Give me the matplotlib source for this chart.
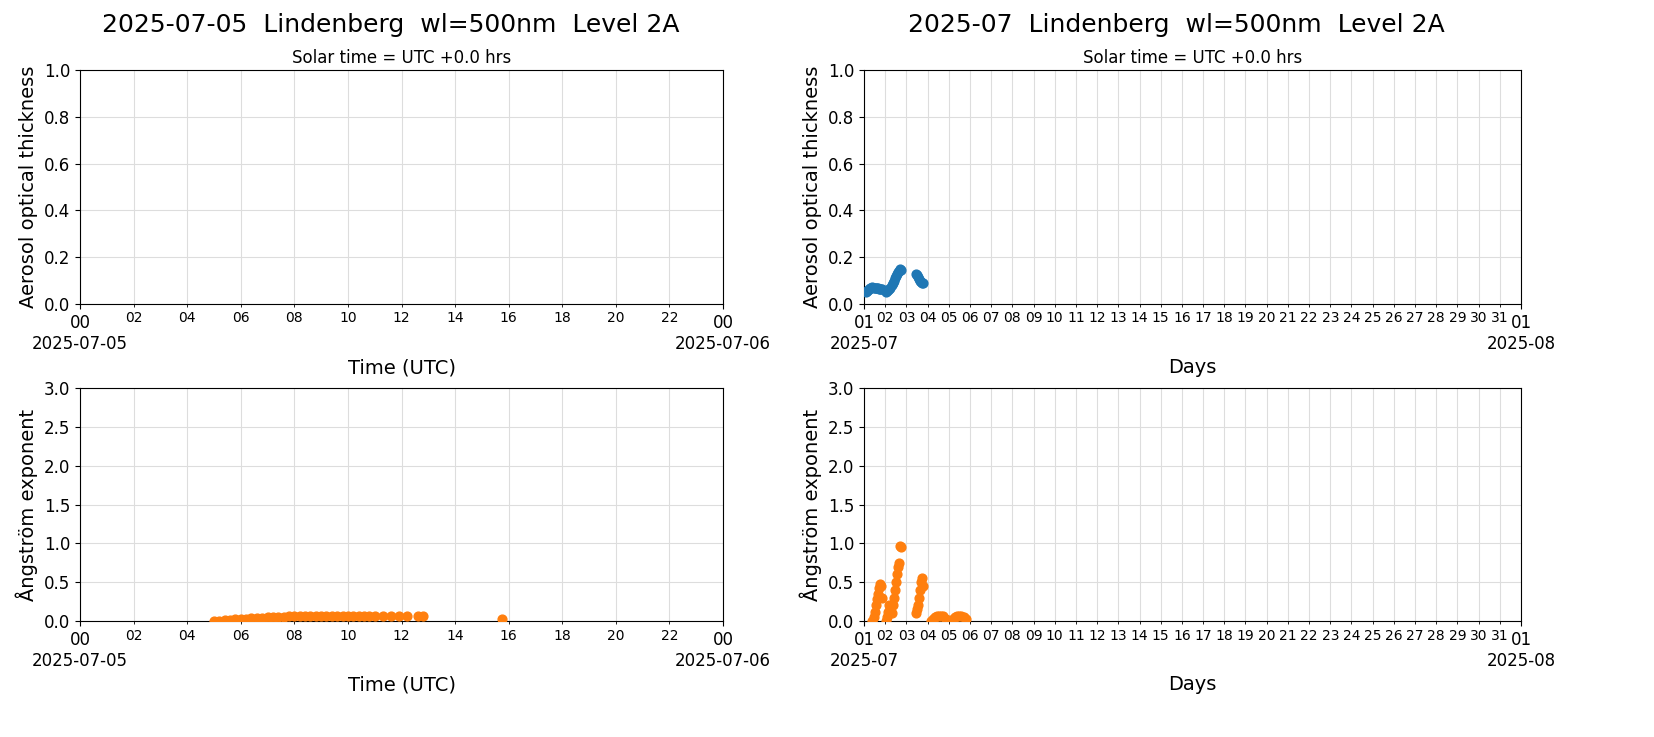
import matplotlib
matplotlib.use("Agg")
import matplotlib.pyplot as plt
import matplotlib.dates as mdates
import numpy as np
from datetime import datetime, timedelta

# Daily panel: Angstrom exponent (hours UTC on 2025-07-05)
day_hours = [5.0,5.2,5.4,5.6,5.8,6.0,6.2,6.4,6.6,6.8,7.0,7.2,7.4,7.6,7.8,8.0,8.2,8.4,8.6,8.8,9.0,9.2,9.4,9.6,9.8,10.0,10.2,10.4,10.6,10.8,11.0,11.3,11.6,11.9,12.2,12.6,12.8,15.75]
day_ang = [0.0,0.005,0.01,0.015,0.02,0.025,0.03,0.035,0.04,0.045,0.05,0.05,0.055,0.055,0.06,0.06,0.06,0.065,0.065,0.065,0.07,0.07,0.07,0.07,0.07,0.07,0.07,0.07,0.07,0.07,0.07,0.07,0.07,0.07,0.07,0.07,0.07,0.03]

# Monthly panel: AOT (fractional day of July 2025)
mon_aot_day = [1.10,1.15,1.20,1.25,1.30,1.35,1.40,1.45,1.50,1.55,1.60,1.65,1.70,1.75,1.80,1.85,
               2.05,2.10,2.15,2.20,2.25,2.30,2.35,2.40,2.45,2.50,2.55,2.60,2.65,2.70,2.75,
               3.45,3.50,3.55,3.60,3.65,3.70,3.75,3.80]
mon_aot = [0.05,0.055,0.06,0.065,0.07,0.07,0.072,0.07,0.07,0.068,0.068,0.067,0.066,0.065,0.064,0.063,
           0.05,0.055,0.06,0.065,0.07,0.08,0.09,0.10,0.11,0.12,0.13,0.135,0.14,0.15,0.145,
           0.13,0.125,0.115,0.105,0.10,0.095,0.09,0.09]
# Monthly panel: Angstrom exponent
mon_ang_day = [1.40,1.45,1.50,1.55,1.60,1.65,1.70,1.75,1.80,1.85,
               2.05,2.10,2.15,2.20,2.25,2.30,2.35,2.40,2.45,2.50,2.55,2.60,2.65,2.70,2.75,
               3.45,3.50,3.55,3.60,3.65,3.70,3.75,3.80,
               4.15,4.25,4.35,4.45,4.55,4.65,4.75,4.85,
               5.10,5.20,5.30,5.40,5.50,5.60,5.70,5.80]
mon_ang = [0.0,0.05,0.12,0.2,0.28,0.35,0.42,0.48,0.45,0.3,
           0.0,0.05,0.12,0.2,0.15,0.1,0.2,0.3,0.4,0.5,0.6,0.7,0.75,0.97,0.95,
           0.1,0.15,0.2,0.3,0.4,0.5,0.55,0.45,
           0.0,0.03,0.05,0.06,0.07,0.07,0.06,0.03,
           0.0,0.03,0.05,0.07,0.07,0.07,0.05,0.03]

blue = "#1f77b4"; orange = "#ff7f0e"
fig = plt.figure(figsize=(16.54, 7.37), dpi=100)
W, H = 1654, 737
def ax_at(x0, y0, x1, y1):
    return fig.add_axes([x0/W, 1-y1/H, (x1-x0)/W, (y1-y0)/H])

axTL = ax_at(80, 70, 723, 304)
axBL = ax_at(80, 388, 723, 621)
axTR = ax_at(864, 70, 1521, 304)
axBR = ax_at(864, 388, 1521, 621)

d0 = datetime(2025, 7, 5); d1 = datetime(2025, 7, 6)
m0 = datetime(2025, 7, 1); m1 = datetime(2025, 8, 1)

def style_day(ax, ylim, ylabel):
    ax.set_xlim(d0, d1); ax.set_ylim(*ylim)
    ax.xaxis.set_major_locator(mdates.DayLocator())
    ax.xaxis.set_major_formatter(mdates.DateFormatter("%H\n%Y-%m-%d"))
    ax.xaxis.set_minor_locator(mdates.HourLocator(byhour=range(2, 24, 2)))
    ax.xaxis.set_minor_formatter(mdates.DateFormatter("%H"))
    ax.tick_params(axis="x", which="major", labelsize=12)
    ax.tick_params(axis="x", which="minor", labelsize=10)
    ax.tick_params(axis="y", labelsize=12)
    ax.grid(True, which="both", color="#dddddd")
    ax.set_axisbelow(True)
    ax.set_xlabel("Time (UTC)", fontsize=14)
    ax.set_ylabel(ylabel, fontsize=14)

def style_mon(ax, ylim, ylabel):
    ax.set_xlim(m0, m1); ax.set_ylim(*ylim)
    ax.xaxis.set_major_locator(mdates.MonthLocator())
    ax.xaxis.set_major_formatter(mdates.DateFormatter("%d\n%Y-%m"))
    ax.xaxis.set_minor_locator(mdates.DayLocator(bymonthday=range(2, 32)))
    ax.xaxis.set_minor_formatter(mdates.DateFormatter("%d"))
    ax.tick_params(axis="x", which="major", labelsize=12)
    ax.tick_params(axis="x", which="minor", labelsize=10)
    ax.tick_params(axis="y", labelsize=12)
    ax.grid(True, which="both", color="#dddddd")
    ax.set_axisbelow(True)
    ax.set_xlabel("Days", fontsize=14)
    ax.set_ylabel(ylabel, fontsize=14)

style_day(axTL, (0, 1), "Aerosol optical thickness")
style_day(axBL, (0, 3), "Ångström exponent")
style_mon(axTR, (0, 1), "Aerosol optical thickness")
style_mon(axBR, (0, 3), "Ångström exponent")

axBL.scatter([d0 + timedelta(hours=h) for h in day_hours], day_ang, s=40, color=orange, zorder=3)
axTR.scatter([m0 + timedelta(days=d-1) for d in mon_aot_day], mon_aot, s=40, color=blue, zorder=3)
axBR.scatter([m0 + timedelta(days=d-1) for d in mon_ang_day], mon_ang, s=40, color=orange, zorder=3)

axTL.set_title("Solar time = UTC +0.0 hrs", fontsize=12, pad=5)
axTR.set_title("Solar time = UTC +0.0 hrs", fontsize=12, pad=5)
fig.text(391/W, 1-25/H, "2025-07-05  Lindenberg  wl=500nm  Level 2A", fontsize=18, ha="center", va="center")
fig.text(1176/W, 1-25/H, "2025-07  Lindenberg  wl=500nm  Level 2A", fontsize=18, ha="center", va="center")

fig.savefig("out.png", dpi=100)
